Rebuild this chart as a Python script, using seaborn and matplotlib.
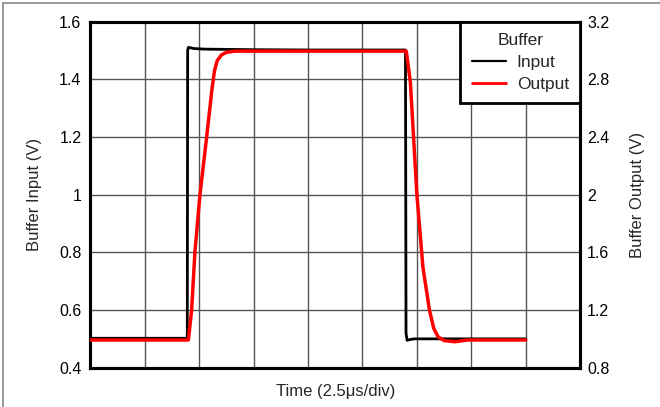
import matplotlib
matplotlib.use("Agg")
import matplotlib.pyplot as plt
import seaborn as sns
import pandas as pd
from matplotlib.lines import Line2D

# Time in divisions (2.5 us/div)
time_in = [0.0, 1.00, 1.780, 1.787, 1.80, 1.83, 1.90, 2.10, 3.00, 4.00, 5.00, 5.79,
           5.80, 5.82, 5.86, 5.95, 6.10, 7.00, 8.00]
input_v = [0.502, 0.502, 0.502, 1.500, 1.511, 1.510, 1.507, 1.505, 1.503, 1.502, 1.502, 1.502,
           0.520, 0.495, 0.497, 0.500, 0.500, 0.500, 0.500]

time_out = [0.0, 1.00, 1.80, 1.86, 1.92, 2.013, 2.136, 2.23, 2.28, 2.33, 2.41, 2.50, 2.66, 3.50, 4.50,
            5.50, 5.805, 5.88, 6.00, 6.11, 6.23, 6.31, 6.39, 6.50, 6.70, 6.93, 7.50, 8.00]
output_v = [0.992, 0.992, 0.992, 1.20, 1.60, 2.00, 2.40, 2.72, 2.86, 2.93, 2.970, 2.988, 2.996, 2.996, 2.996,
            2.996, 2.996, 2.78, 2.00, 1.50, 1.20, 1.072, 1.014, 0.988, 0.980, 0.992, 0.992, 0.992]

left_ticks = [0.4, 0.6, 0.8, 1.0, 1.2, 1.4, 1.6]
left_labels = ["0.4", "0.6", "0.8", "1", "1.2", "1.4", "1.6"]
right_ticks = [0.8, 1.2, 1.6, 2.0, 2.4, 2.8, 3.2]
right_labels = ["0.8", "1.2", "1.6", "2", "2.4", "2.8", "3.2"]

sns.set_style("white")
plt.rcParams['font.family'] = ['Liberation Sans', 'DejaVu Sans']

fig = plt.figure(figsize=(6.6, 4.07), dpi=100)
ax = fig.add_axes([0.137, 0.0966, 0.742, 0.850])
ax2 = ax.twinx()

df_in = pd.DataFrame({"t": time_in, "v": input_v})
df_out = pd.DataFrame({"t": time_out, "v": output_v})

sns.lineplot(data=df_in, x="t", y="v", ax=ax, color="black", linewidth=2.0,
             sort=False, estimator=None, zorder=3)
sns.lineplot(data=df_out, x="t", y="v", ax=ax2, color="#ff0000", linewidth=2.5,
             sort=False, estimator=None, zorder=3)

ax.set_xlim(0, 9)
ax.set_ylim(0.4, 1.6)
ax2.set_ylim(0.8, 3.2)
ax.set_xticks(range(0, 10))
ax.set_xticklabels([])
ax.set_yticks(left_ticks)
ax.set_yticklabels(left_labels)
ax2.set_yticks(right_ticks)
ax2.set_yticklabels(right_labels)
ax.tick_params(axis='both', length=0, pad=6.5, labelsize=11.5, colors='black')
ax2.tick_params(axis='y', length=0, pad=5, labelsize=11.5, colors='black')
ax.grid(True, color="#555555", linewidth=1.0)
ax2.grid(False)
ax.set_axisbelow(True)

ax.set_xlabel("Time (2.5\u03bcs/div)", fontsize=12)
ax.set_ylabel("Buffer Input (V)", fontsize=12)
ax2.set_ylabel("Buffer Output (V)", fontsize=12)
ax.xaxis.set_label_coords(0.5, -0.048)
ax.yaxis.set_label_coords(-0.098, 0.5)
ax2.yaxis.set_label_coords(1.102, 0.5)

for a in (ax, ax2):
    for s in a.spines.values():
        s.set_linewidth(2.2)
        s.set_color("black")

handles = [Line2D([0], [0], color="black", linewidth=1.6),
           Line2D([0], [0], color="#ff0000", linewidth=2.0)]
leg = ax2.legend(handles, ["Input", "Output"], title="Buffer", loc="upper right",
                 bbox_to_anchor=(1.0, 1.0), frameon=True, fancybox=False,
                 borderaxespad=0, fontsize=12.5, title_fontsize=12.5,
                 handlelength=2.0, handletextpad=0.6, borderpad=0.65, labelspacing=0.4,
                 alignment="center")
leg.get_frame().set_edgecolor("black")
leg.get_frame().set_linewidth(2.0)
leg.get_frame().set_alpha(1)

# light outer frame (top and left edges)
fig.add_artist(Line2D([0.005, 1.0], [0.992, 0.992], transform=fig.transFigure,
                      color="#888888", linewidth=1.2))
fig.add_artist(Line2D([0.005, 0.005], [0.0, 0.992], transform=fig.transFigure,
                      color="#888888", linewidth=1.2))

fig.savefig("out.png", dpi=100)
